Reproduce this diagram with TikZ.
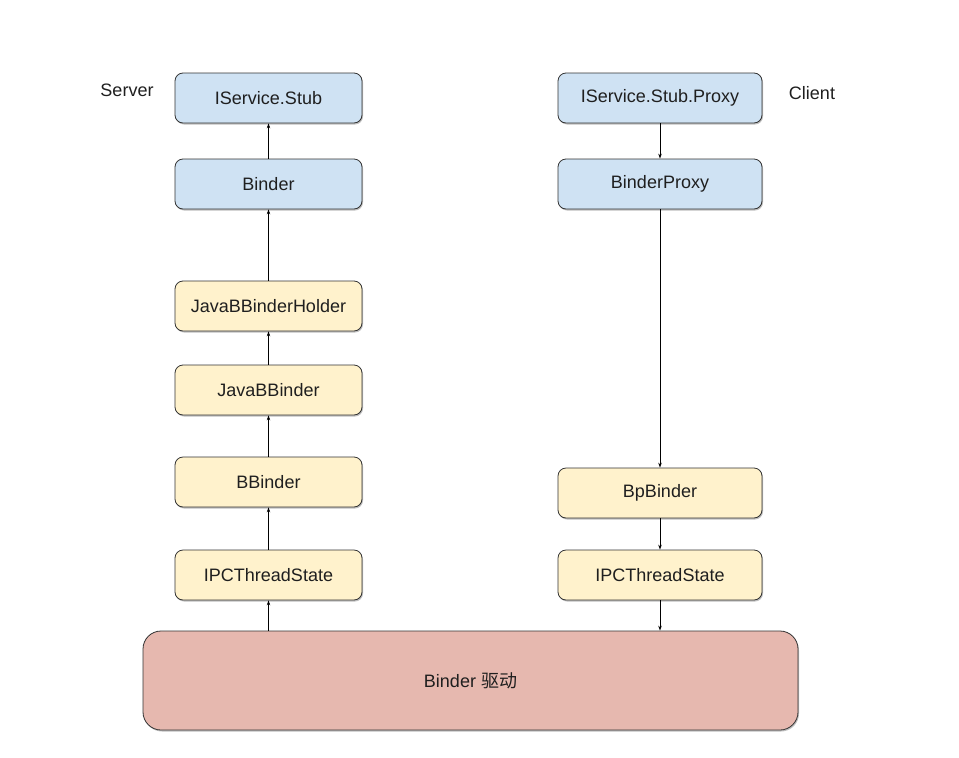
\documentclass[tikz,border=0pt]{standalone}
\usepackage{fontspec}
\setmainfont{Liberation Sans}
\newfontfamily\cjk{Noto Sans CJK SC}
\usetikzlibrary{shadows,arrows.meta}
\definecolor{bluefill}{HTML}{CFE2F3}
\definecolor{yellowfill}{HTML}{FFF2CC}
\definecolor{redfill}{HTML}{E6B8AF}
\definecolor{edge}{HTML}{333333}
\definecolor{txt}{HTML}{1F1F1F}
\tikzset{
  box/.style={draw=edge, line width=0.8pt, rounded corners=8pt, minimum height=50pt,
    text=txt, font=\fontsize{18}{20}\selectfont, inner sep=0pt,
    drop shadow={shadow xshift=1pt, shadow yshift=-1.5pt, fill=black, opacity=0.25}},
  lbox/.style={box, minimum width=187pt},
  rbox/.style={box, minimum width=204pt},
  blue/.style={fill=bluefill},
  yel/.style={fill=yellowfill},
  lab/.style={text=txt, font=\fontsize{18}{20}\selectfont},
  arr/.style={draw=black, line width=0.7pt, -{Stealth[length=5pt,width=3.5pt]}}
}
\begin{document}
\begin{tikzpicture}[x=1pt,y=-1pt]
\useasboundingbox (0,0) rectangle (959,758);
% left column
\node[lbox,blue] (stub) at (268.5,98) {IService.Stub};
\node[lbox,blue] (binder) at (268.5,184) {Binder};
\node[lbox,yel] (holder) at (268.5,306) {JavaBBinderHolder};
\node[lbox,yel] (jbb) at (268.5,390) {JavaBBinder};
\node[lbox,yel] (bb) at (268.5,482) {BBinder};
\node[lbox,yel] (ipcl) at (268.5,575) {IPCThreadState};
% right column
\node[rbox,blue] (proxy) at (660,98) {IService.Stub.Proxy};
\node[rbox,blue] (bproxy) at (660,184) {BinderProxy};
\node[rbox,yel] (bp) at (660,493) {BpBinder};
\node[rbox,yel] (ipcr) at (660,575) {IPCThreadState};
% driver
\node[box, fill=redfill, rounded corners=18pt, minimum width=655pt, minimum height=99pt] (drv) at (470.5,680.5) {Binder {\cjk 驱动}};
% labels
\node[lab] (server) at (127,90) {Server};
\node[lab] (client) at (812,93) {Client};
% arrows left (upwards)
\draw[arr] (drv.north -| ipcl.south) -- (ipcl.south);
\draw[arr] (ipcl.north) -- (bb.south);
\draw[arr] (bb.north) -- (jbb.south);
\draw[arr] (jbb.north) -- (holder.south);
\draw[arr] (holder.north) -- (binder.south);
\draw[arr] (binder.north) -- (stub.south);
% arrows right (downwards)
\draw[arr] (proxy.south) -- (bproxy.north);
\draw[arr] (bproxy.south) -- (bp.north);
\draw[arr] (bp.south) -- (ipcr.north);
\draw[arr] (ipcr.south) -- (ipcr.south |- drv.north);
\end{tikzpicture}
\end{document}
